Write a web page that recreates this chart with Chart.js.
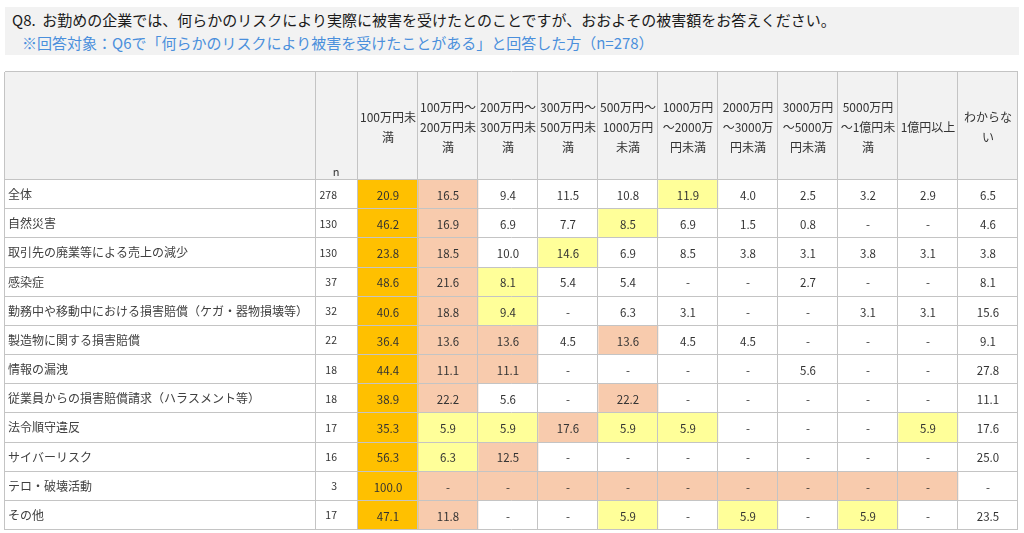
<!DOCTYPE html>
<html>
<head>
<meta charset="utf-8">
<script src="https://cdn.jsdelivr.net/npm/chart.js@4/dist/chart.umd.min.js"></script>
<style>
  html, body { margin: 0; padding: 0; background: #fff; }
  body { width: 1024px; height: 533px; position: relative; overflow: hidden;
         font-family: "Noto Sans CJK JP", "Noto Sans", sans-serif; }
  #wrap { position: absolute; left: 0; top: 0; width: 1024px; height: 533px; }
  .title { position: absolute; left: 5px; top: 7px; width: 1014px; height: 48px;
           background: #f2f2f2; }
  .q { position: absolute; left: 7px; top: 2px; font-size: 15px; color: #1a1a1a; white-space: nowrap; }
  .sub { position: absolute; left: 17px; top: 25px; font-size: 15px; color: #4a8fdc; white-space: nowrap; }
</style>
</head>
<body>
<div id="wrap"><canvas id="chart"></canvas></div>
<div class="title">
  <div class="q">Q8.&nbsp; お勤めの企業では、何らかのリスクにより実際に被害を受けたとのことですが、おおよその被害額をお答えください。</div>
  <div class="sub">※回答対象：Q6で「何らかのリスクにより被害を受けたことがある」と回答した方（n=278）</div>
</div>
<script>
// rows of the table
const riskLabels = [
    "全体",
    "自然災害",
    "取引先の廃業等による売上の減少",
    "感染症",
    "勤務中や移動中における損害賠償（ケガ・器物損壊等）",
    "製造物に関する損害賠償",
    "情報の漏洩",
    "従業員からの損害賠償請求（ハラスメント等）",
    "法令順守違反",
    "サイバーリスク",
    "テロ・破壊活動",
    "その他",
];
const sampleSizes = [278, 130, 130, 37, 32, 22, 18, 18, 17, 16, 3, 17];

// damage amount buckets (header lines)
const amountLabels = [
    ["100万円未", "満"],
    ["100万円～", "200万円未", "満"],
    ["200万円～", "300万円未", "満"],
    ["300万円～", "500万円未", "満"],
    ["500万円～", "1000万円", "未満"],
    ["1000万円", "～2000万", "円未満"],
    ["2000万円", "～3000万", "円未満"],
    ["3000万円", "～5000万", "円未満"],
    ["5000万円", "～1億円未", "満"],
    ["1億円以上"],
    ["わからな", "い"],
];

// % per row, null = "-"
const percents = [
    [20.9, 16.5, 9.4, 11.5, 10.8, 11.9, 4.0, 2.5, 3.2, 2.9, 6.5],
    [46.2, 16.9, 6.9, 7.7, 8.5, 6.9, 1.5, 0.8, null, null, 4.6],
    [23.8, 18.5, 10.0, 14.6, 6.9, 8.5, 3.8, 3.1, 3.8, 3.1, 3.8],
    [48.6, 21.6, 8.1, 5.4, 5.4, null, null, 2.7, null, null, 8.1],
    [40.6, 18.8, 9.4, null, 6.3, 3.1, null, null, 3.1, 3.1, 15.6],
    [36.4, 13.6, 13.6, 4.5, 13.6, 4.5, 4.5, null, null, null, 9.1],
    [44.4, 11.1, 11.1, null, null, null, null, 5.6, null, null, 27.8],
    [38.9, 22.2, 5.6, null, 22.2, null, null, null, null, null, 11.1],
    [35.3, 5.9, 5.9, 17.6, 5.9, 5.9, null, null, null, 5.9, 17.6],
    [56.3, 6.3, 12.5, null, null, null, null, null, null, null, 25.0],
    [100.0, null, null, null, null, null, null, null, null, null, null],
    [47.1, 11.8, null, null, 5.9, null, 5.9, null, 5.9, null, 23.5],
];

const RANK_COLORS = ["#ffc000", "#f8cbad", "#ffff99"];
const GRID = "#c4c4c4";
const TEXT = "#333333";
const FONT = "'Noto Sans CJK JP', 'Noto Sans', sans-serif";

// highlight top 3 per row (competition rank), "わからない" column excluded
function cellColor(r, c) {
    if (c === amountLabels.length - 1) return "#ffffff";
    const vals = percents[r].slice(0, amountLabels.length - 1).map((v) => v ?? 0);
    const rank = 1 + vals.filter((v) => v > vals[c]).length;
    return RANK_COLORS[rank - 1] || "#ffffff";
}

// fixed box size, and no extra edge padding for overflowing tick labels
function fixBox(w, h) {
    return (s) => {
        if (w != null) s.width = w;
        if (h != null) s.height = h;
        s.paddingLeft = s.paddingRight = s.paddingTop = s.paddingBottom = 0;
    };
}

const tablePlugin = {
    id: "tableGrid",
    beforeDraw(chart) {
        const { ctx } = chart;
        const xs = chart.scales.x;
        const ys = chart.scales.y;
        ctx.save();
        ctx.fillStyle = "#f2f2f2";
        ctx.fillRect(ys.left - 3, xs.top, xs.right - ys.left + 3, xs.bottom - xs.top);
        ctx.restore();
    },
    afterDatasetsDraw(chart) {
        const { ctx, chartArea } = chart;
        const xs = chart.scales.x;
        const ys = chart.scales.y;
        const yn = chart.scales.yN;
        const tableLeft = ys.left - 3;
        const top = xs.top;
        const bottom = chartArea.bottom;

        // values in cells
        ctx.save();
        ctx.font = `11.5px ${FONT}`;
        ctx.fillStyle = TEXT;
        ctx.textAlign = "center";
        ctx.textBaseline = "middle";
        chart.data.datasets.forEach((ds, c) => {
            chart.getDatasetMeta(c).data.forEach((bar, r) => {
                const v = percents[r][c];
                const p = bar.getCenterPoint();
                ctx.fillText(v == null ? "-" : v.toFixed(1), p.x, p.y + 1);
            });
        });
        ctx.font = `11px ${FONT}`;
        ctx.fillText("n", (yn.left + yn.right) / 2 - 1, xs.bottom - 8);

        // grid lines
        ctx.strokeStyle = GRID;
        ctx.lineWidth = 1;
        ctx.beginPath();
        const vlines = [tableLeft, yn.left];
        for (let c = 0; c <= amountLabels.length; c++) vlines.push(xs.getPixelForValue(c));
        vlines.forEach((x) => {
            const px = Math.round(x) - 0.5;
            ctx.moveTo(px, top);
            ctx.lineTo(px, bottom);
        });
        const hlines = [top, chartArea.top];
        chart.getDatasetMeta(0).data.forEach((bar) => hlines.push(bar.y + bar.height / 2));
        hlines.forEach((y) => {
            const py = Math.round(y) - 0.5;
            ctx.moveTo(tableLeft, py);
            ctx.lineTo(xs.right, py);
        });
        ctx.stroke();
        ctx.restore();
    },
};

new Chart(document.getElementById("chart"), {
    type: "bar",
    data: {
        labels: riskLabels,
        datasets: amountLabels.map((_, c) => ({
            data: riskLabels.map(() => [c, c + 1]),
            backgroundColor: riskLabels.map((_, r) => cellColor(r, c)),
            borderWidth: 0,
            barPercentage: 1,
            categoryPercentage: 1,
            grouped: false,
        })),
    },
    options: {
        indexAxis: "y",
        responsive: true,
        maintainAspectRatio: false,
        devicePixelRatio: 1,
        animation: false,
        events: [],
        layout: { padding: { top: 72, left: 8, right: 6, bottom: 3 } },
        plugins: { legend: { display: false }, tooltip: { enabled: false } },
        scales: {
            x: {
                type: "linear",
                position: "top",
                min: 0,
                max: amountLabels.length,
                bounds: "data",
                grid: { display: false, drawTicks: false },
                border: { display: false },
                afterBuildTicks: (s) => {
                    s.ticks = amountLabels.map((_, i) => ({ value: i + 0.5 }));
                },
                afterFit: fixBox(null, 108),
                ticks: {
                    autoSkip: false,
                    maxRotation: 0,
                    crossAlign: "center",
                    padding: 33,
                    color: TEXT,
                    font: { family: FONT, size: 12, lineHeight: "20px" },
                    callback: (v, i) => amountLabels[i],
                },
            },
            y: {
                type: "category",
                position: "left",
                weight: 1,
                grid: { display: false, drawTicks: false },
                border: { display: false },
                afterFit: fixBox(308, null),
                ticks: {
                    crossAlign: "far",
                    color: "#404040",
                    font: { family: FONT, size: 12 },
                },
            },
            yN: {
                type: "category",
                position: "left",
                weight: 0,
                offset: true,
                labels: sampleSizes.map(String),
                grid: { display: false, drawTicks: false },
                border: { display: false },
                afterFit: fixBox(42, null),
                ticks: {
                    crossAlign: "near",
                    padding: 21,
                    color: TEXT,
                    font: { family: FONT, size: 10.5 },
                },
            },
        },
    },
    plugins: [tablePlugin],
});
</script>
</body>
</html>
